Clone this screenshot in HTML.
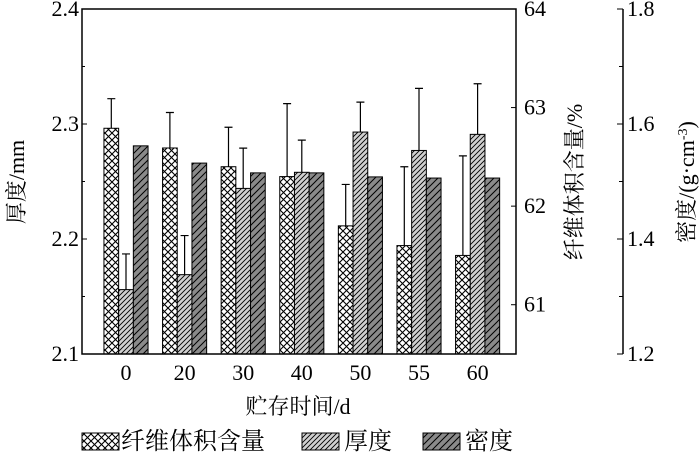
<!DOCTYPE html>
<html><head><meta charset="utf-8"><style>
body{margin:0;background:#fff}
svg text{font-family:"Liberation Serif","Noto Serif CJK SC",serif;fill:#000}
</style></head><body>
<svg id="chart" width="700" height="454" xmlns="http://www.w3.org/2000/svg">
<defs>
<pattern id="pCross" width="7" height="7" patternUnits="userSpaceOnUse">
<rect width="7" height="7" fill="#fff"/>
<path d="M0,0L7,7M7,0L0,7M-1,6L1,8M6,-1L8,1" stroke="#000" stroke-width="1.1"/>
</pattern>
<pattern id="pThick" width="5" height="5" patternUnits="userSpaceOnUse">
<rect width="5" height="5" fill="#d0d0d0"/>
<path d="M0,5L5,0M-1,1L1,-1M4,6L6,4" stroke="#000" stroke-width="0.9"/>
</pattern>
<pattern id="pDens" width="7" height="7" patternUnits="userSpaceOnUse">
<rect width="7" height="7" fill="#8a8a8a"/>
<path d="M0,7L7,0M-1,1L1,-1M6,8L8,6" stroke="#000" stroke-width="1"/>
</pattern>
</defs>
<g id="marks"></g>
<g id="axes"></g>
</svg>
<script>
const categories = ["0","20","30","40","50","55","60"];
const fiberValues = [62.79, 62.59, 62.40, 62.30, 61.80, 61.60, 61.50];
const fiberErr = [0.30, 0.36, 0.40, 0.74, 0.42, 0.80, 1.01];
const thickValues = [2.156, 2.169, 2.244, 2.258, 2.293, 2.277, 2.291];
const thickErr = [0.031, 0.034, 0.035, 0.028, 0.026, 0.054, 0.044];
const densValues = [1.562, 1.532, 1.515, 1.515, 1.508, 1.506, 1.506];
const leftTicks = ["2.1","2.2","2.3","2.4"];
const midTicks = ["61","62","63","64"];
const rightTicks = ["1.2","1.4","1.6","1.8"];

const NS="http://www.w3.org/2000/svg";
const X0=82,X1=516,Y0=354,Y1=9;
const yL=v=>Y0-(v-2.1)/0.3*(Y0-Y1);
const yM=v=>Y0-(v-60.5)/3.5*(Y0-Y1);
const yR=v=>Y0-(v-1.2)/0.6*(Y0-Y1);
const cx=i=>126+i*58.6;
const BW=14.7;
const FS=22;
function mk(tag,attrs,parent){const e=document.createElementNS(NS,tag);for(const k in attrs)e.setAttribute(k,attrs[k]);parent.appendChild(e);return e;}
const marks=document.getElementById('marks'),axes=document.getElementById('axes');

function errBar(x,yTop,yErr){
  const g=mk('path',{d:`M${x},${yTop}V${yErr}M${x-4},${yErr}H${x+4}`,stroke:'#000','stroke-width':1.2,fill:'none'},marks);
  
  
}
categories.forEach((c,i)=>{
  const x=cx(i)-1.5*BW;
  let y=yM(fiberValues[i]);
  errBar(x+BW/2,y,yM(fiberValues[i]+fiberErr[i]));
  let r=mk('rect',{x:x,y:y,width:BW,height:Y0-y,fill:'url(#pCross)',stroke:'#000','stroke-width':1},marks);
  
  
  y=yL(thickValues[i]);
  errBar(x+BW*1.5,y,yL(thickValues[i]+thickErr[i]));
  r=mk('rect',{x:x+BW,y:y,width:BW,height:Y0-y,fill:'url(#pThick)',stroke:'#000','stroke-width':1},marks);
  
  
  y=yR(densValues[i]);
  r=mk('rect',{x:x+2*BW,y:y,width:BW,height:Y0-y,fill:'url(#pDens)',stroke:'#000','stroke-width':1},marks);
  
  
  const t=mk('text',{x:cx(i),y:380,'text-anchor':'middle','font-size':FS},axes);t.textContent=c;
  
  
});
const fr=mk('rect',{x:X0,y:Y1,width:X1-X0,height:Y0-Y1,fill:'none',stroke:'#000','stroke-width':1.5},axes);


leftTicks.forEach(t=>{const v=+t,y=yL(v);
  mk('line',{x1:X0,x2:X0+5,y1:y,y2:y,stroke:'#000'},axes);
  const e=mk('text',{x:X0-3,y:y+7,'text-anchor':'end','font-size':FS},axes);e.textContent=t;
  
  
  if(v<2.4)mk('line',{x1:X0,x2:X0+3,y1:yL(v+0.05),y2:yL(v+0.05),stroke:'#000'},axes);
});
midTicks.forEach(t=>{const y=yM(+t);
  mk('line',{x1:X1-5,x2:X1,y1:y,y2:y,stroke:'#000'},axes);
  const e=mk('text',{x:X1+8,y:y+7,'font-size':FS},axes);e.textContent=t;
  
  
});
const RA=623;
const ra=mk('line',{x1:RA,x2:RA,y1:Y1,y2:Y0,stroke:'#000','stroke-width':1.5},axes);


rightTicks.forEach(t=>{const v=+t,y=yR(v);
  mk('line',{x1:RA-6,x2:RA,y1:y,y2:y,stroke:'#000'},axes);
  const e=mk('text',{x:RA+4,y:y+7,'font-size':FS},axes);e.textContent=t;
  
  
  if(v<1.8)mk('line',{x1:RA-4,x2:RA,y1:yR(v+0.1),y2:yR(v+0.1),stroke:'#000'},axes);
});
</script>
<svg width="700" height="454" style="position:absolute;left:0;top:0" xmlns="http://www.w3.org/2000/svg">
<text transform="translate(24,182) rotate(-90)" text-anchor="middle" font-size="22">厚度/mm</text>
<text transform="translate(582,182) rotate(-90)" text-anchor="middle" font-size="22">纤维体积含量/%</text>
<text transform="translate(694,182) rotate(-90)" text-anchor="middle" font-size="22">密度/(g·cm<tspan dy="-7" font-size="14">-3</tspan><tspan dy="7">)</tspan></text>
<text x="298" y="414" text-anchor="middle" font-size="22">贮存时间/d</text>
<g>
<rect x="82" y="433" width="37" height="17" fill="url(#pCross)" stroke="#000"/>
<text x="121" y="449" font-size="24">纤维体积含量</text>
<rect x="302" y="433" width="37" height="17" fill="url(#pThick)" stroke="#000"/>
<text x="344" y="449" font-size="24">厚度</text>
<rect x="423" y="433" width="37" height="17" fill="url(#pDens)" stroke="#000"/>
<text x="465" y="449" font-size="24">密度</text>
</g>
</svg>
</body></html>
